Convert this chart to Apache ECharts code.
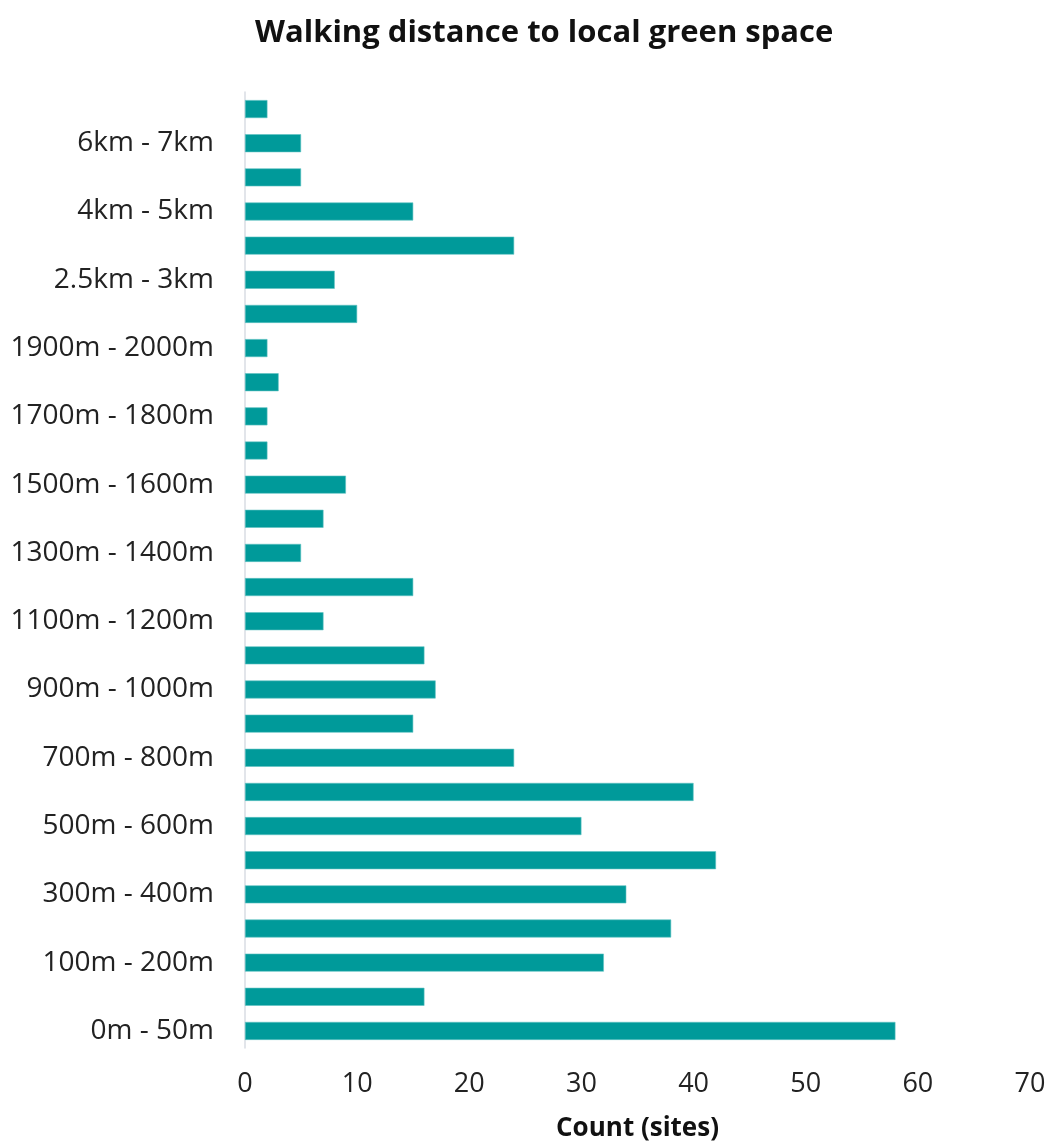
<!DOCTYPE html>
<html>
<head>
<meta charset="utf-8">
<script src="https://cdn.jsdelivr.net/npm/echarts@6/dist/echarts.min.js"></script>
<style>
  html, body { margin: 0; padding: 0; background: #ffffff; }
  #chart { width: 1053px; height: 1147px; }
</style>
</head>
<body>
<div id="chart"></div>
<script>
// Distance bands, nearest first (drawn bottom to top)
const categories = [
  '0m - 50m', '50m - 100m', '100m - 200m', '200m - 300m', '300m - 400m',
  '400m - 500m', '500m - 600m', '600m - 700m', '700m - 800m', '800m - 900m',
  '900m - 1000m', '1000m - 1100m', '1100m - 1200m', '1200m - 1300m', '1300m - 1400m',
  '1400m - 1500m', '1500m - 1600m', '1600m - 1700m', '1700m - 1800m', '1800m - 1900m',
  '1900m - 2000m', '2km - 2.5km', '2.5km - 3km', '3km - 4km', '4km - 5km',
  '5km - 6km', '6km - 7km', '7km+'
];

// Number of sites in each band
const siteCounts = [
  58, 16, 32, 38, 34,
  42, 30, 40, 24, 15,
  17, 16, 7, 15, 5,
  7, 9, 2, 2, 3,
  2, 10, 8, 24, 15,
  5, 5, 2
];

const countTicks = { min: 0, max: 70, interval: 10 };

const fontFamily = '"Open Sans", "Noto Sans", sans-serif';

const chart = echarts.init(document.getElementById('chart'), null, { renderer: 'canvas' });

chart.setOption({
  animation: false,
  backgroundColor: '#ffffff',
  title: {
    text: 'Walking distance to local green space',
    left: 250,
    top: 13,
    textStyle: { fontFamily, fontSize: 31, fontWeight: 'bold', color: '#111111' }
  },
  grid: { left: 245, right: 23, top: 92, bottom: 93, containLabel: false },
  xAxis: {
    type: 'value',
    min: countTicks.min,
    max: countTicks.max,
    interval: countTicks.interval,
    name: 'Count (sites)',
    nameLocation: 'middle',
    nameGap: 68,
    nameTextStyle: { fontFamily, fontSize: 26, fontWeight: 'bold', color: '#111111' },
    axisLine: { show: false },
    axisTick: { show: false },
    splitLine: { show: false },
    axisLabel: { fontFamily, fontSize: 27, color: '#222222', margin: 23 }
  },
  yAxis: {
    type: 'category',
    data: categories,
    axisLine: { show: true, lineStyle: { color: '#d9dde3', width: 1.5 } },
    axisTick: { show: false },
    splitLine: { show: false },
    axisLabel: { interval: 1, fontFamily, fontSize: 28, color: '#222222', margin: 31 }
  },
  series: [{
    type: 'bar',
    data: siteCounts,
    barWidth: 18,
    itemStyle: { color: '#009a9a', borderColor: '#5fc2c2', borderWidth: 0.6 }
  }]
});
</script>
</body>
</html>
